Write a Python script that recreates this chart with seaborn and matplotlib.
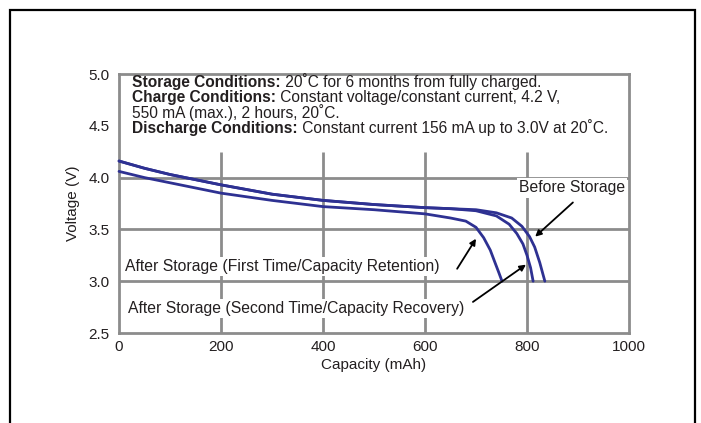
import numpy as np
import pandas as pd
import seaborn as sns
import matplotlib.pyplot as plt
from matplotlib.patches import Rectangle

# curve data (capacity mAh, voltage V)
before_cap = [0, 50, 100, 200, 300, 400, 500, 600, 650, 700, 740, 770, 790, 805, 815, 825, 835]
before_v = [4.16, 4.09, 4.03, 3.93, 3.84, 3.78, 3.74, 3.71, 3.70, 3.69, 3.66, 3.61, 3.53, 3.43, 3.33, 3.18, 3.00]

second_cap = [0, 50, 100, 200, 300, 400, 500, 600, 650, 700, 740, 765, 780, 792, 800, 807, 812]
second_v = [4.16, 4.09, 4.03, 3.93, 3.84, 3.78, 3.74, 3.71, 3.70, 3.68, 3.63, 3.55, 3.46, 3.36, 3.25, 3.13, 3.00]

first_cap = [0, 50, 100, 200, 300, 400, 500, 600, 650, 680, 700, 715, 728, 738, 745, 751]
first_v = [4.06, 4.00, 3.95, 3.85, 3.78, 3.72, 3.69, 3.65, 3.61, 3.58, 3.52, 3.42, 3.30, 3.17, 3.08, 3.00]

x_ticks = [0, 200, 400, 600, 800, 1000]
y_ticks = [2.5, 3.0, 3.5, 4.0, 4.5, 5.0]

conditions = [
    ("Storage Conditions:", " 20˚C for 6 months from fully charged."),
    ("Charge Conditions:", " Constant voltage/constant current, 4.2 V,"),
    ("", "550 mA (max.), 2 hours, 20˚C."),
    ("Discharge Conditions:", " Constant current 156 mA up to 3.0V at 20˚C."),
]

df = pd.concat([
    pd.DataFrame({"cap": before_cap, "v": before_v, "curve": "Before Storage"}),
    pd.DataFrame({"cap": second_cap, "v": second_v, "curve": "Second"}),
    pd.DataFrame({"cap": first_cap, "v": first_v, "curve": "First"}),
])

sns.set_style("white")
plt.rcParams["font.family"] = ["Liberation Sans", "DejaVu Sans"]

fig = plt.figure(figsize=(7.01, 4.23), dpi=100)
ax = fig.add_axes([119/701, 90/423, 510/701, 259/423])

grid_c = "#8c8c8c"
txt_c = "#231f20"
ax.vlines([200, 400, 600, 800], 2.5, 4.25, color=grid_c, lw=2, zorder=1)
ax.hlines([3.0, 3.5, 4.0], 0, 1000, color=grid_c, lw=2, zorder=1)

sns.lineplot(data=df, x="cap", y="v", units="curve", estimator=None, sort=False,
             color="#2e3192", lw=2, ax=ax, legend=False, zorder=3)
for l in ax.lines:
    l.set_clip_on(False)

ax.set_xlim(0, 1000)
ax.set_ylim(2.5, 5.0)
ax.set_xticks(x_ticks)
ax.set_xticklabels([str(t) for t in x_ticks])
ax.set_yticks(y_ticks)
ax.set_yticklabels([f"{t:.1f}" for t in y_ticks])
ax.tick_params(axis="x", length=0, labelsize=11, colors=txt_c, pad=5)
ax.tick_params(axis="y", length=0, labelsize=11, colors=txt_c, pad=7)
ax.set_xlabel("Capacity (mAh)", fontsize=11, color=txt_c, labelpad=3)
ax.set_ylabel("Voltage (V)", fontsize=11, color=txt_c, labelpad=6)
for s in ax.spines.values():
    s.set_color(grid_c)
    s.set_linewidth(2)

# condition text block, bold heading followed by plain text
fs = 11.2
line_y = [4.875, 4.73, 4.58, 4.43]
for (head, body), yy in zip(conditions, line_y):
    if head:
        t = ax.text(26, yy, head, fontsize=fs, fontweight="bold", va="baseline", color=txt_c)
        ax.annotate(body, xy=(1, 0), xycoords=t, fontsize=fs, va="bottom", ha="left", color=txt_c)
    else:
        ax.text(26, yy, body, fontsize=fs, va="baseline", color=txt_c)

fs2 = 11.3
box = dict(facecolor="white", edgecolor="none", pad=1.5)
arrow = dict(arrowstyle="-|>", color="black", lw=1.3, mutation_scale=9, shrinkA=0, shrinkB=0)
ax.text(993, 3.9, "Before Storage", fontsize=fs2, ha="right", va="center", color=txt_c, bbox=box, zorder=2)
ax.annotate("", xy=(816, 3.43), xytext=(890, 3.76), arrowprops=arrow)
ax.text(12, 3.14, "After Storage (First Time/Capacity Retention)", fontsize=fs2, va="center",
        color=txt_c, bbox=box, zorder=2)
ax.annotate("", xy=(700, 3.41), xytext=(663, 3.12), arrowprops=arrow)
ax.text(18, 2.735, "After Storage (Second Time/Capacity Recovery)", fontsize=fs2, va="center",
        color=txt_c, bbox=box, zorder=2)
ax.annotate("", xy=(798, 3.16), xytext=(694, 2.80), arrowprops=arrow)

fig.patches.append(Rectangle((10/701, -0.05), 685/701, 1.05 - 10/423, transform=fig.transFigure,
                             fill=False, edgecolor="black", lw=1.6))

fig.savefig("out.png", dpi=100)
